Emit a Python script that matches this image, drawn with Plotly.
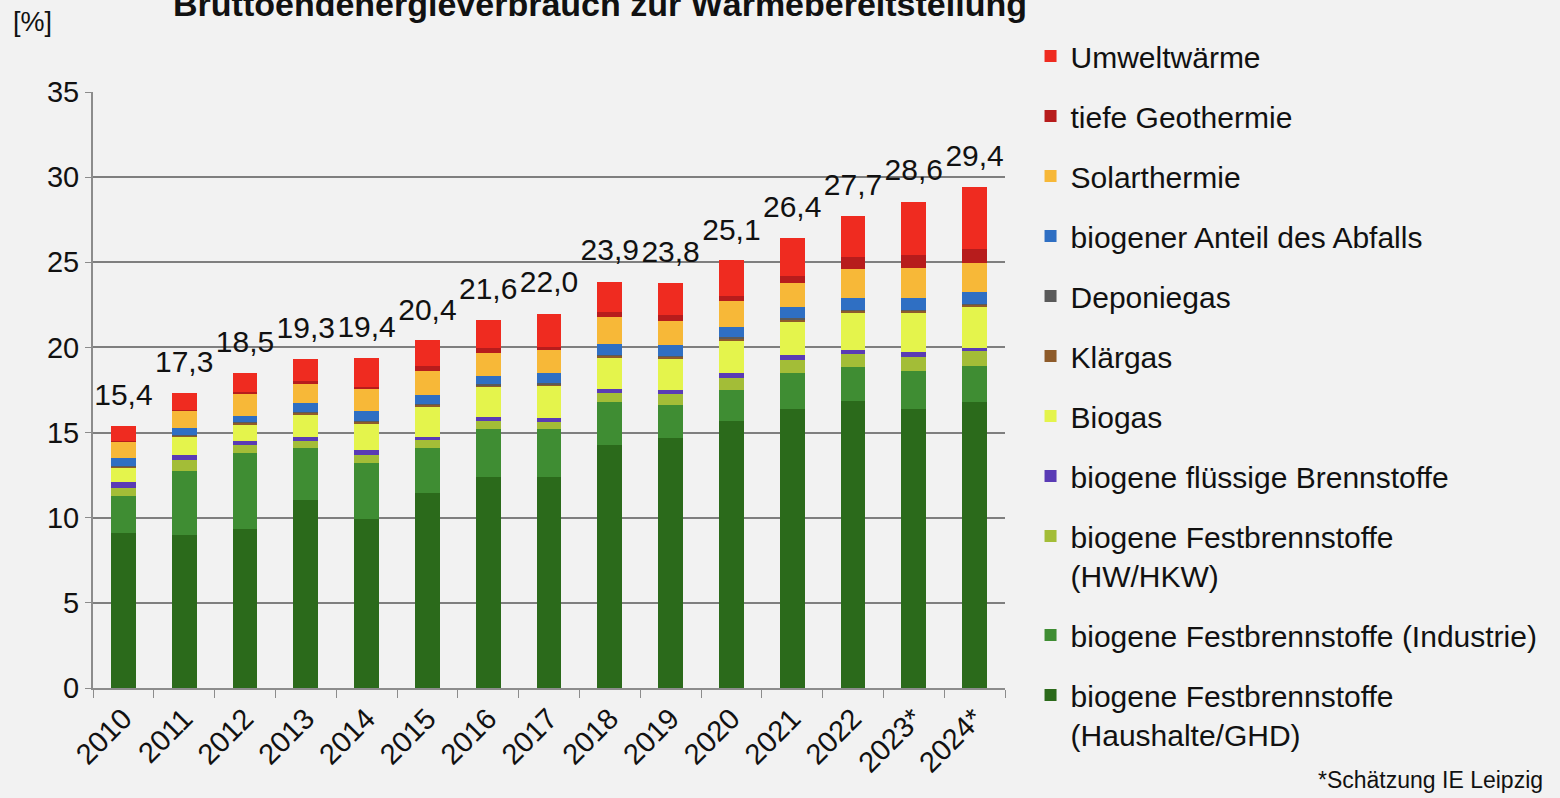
import plotly.graph_objects as go

years = ["2010", "2011", "2012", "2013", "2014", "2015", "2016", "2017",
         "2018", "2019", "2020", "2021", "2022", "2023*", "2024*"]

haushalte = [9.10, 9.00, 9.35, 11.05, 9.90, 11.43, 12.40, 12.40, 14.27, 14.66, 15.70, 16.40, 16.85, 16.40, 16.80]
industrie = [2.15, 3.75, 4.43, 3.06, 3.29, 2.64, 2.79, 2.79, 2.54, 1.96, 1.80, 2.11, 1.98, 2.21, 2.11]
hw_hkw = [0.50, 0.63, 0.49, 0.41, 0.49, 0.49, 0.49, 0.45, 0.49, 0.64, 0.69, 0.75, 0.77, 0.85, 0.89]
fluessig = [0.35, 0.30, 0.25, 0.24, 0.30, 0.20, 0.21, 0.23, 0.23, 0.24, 0.29, 0.29, 0.25, 0.29, 0.18]
biogas = [0.85, 1.08, 0.98, 1.33, 1.56, 1.76, 1.80, 1.88, 1.87, 1.84, 1.95, 1.95, 2.19, 2.29, 2.41]
klaergas = [0.05, 0.07, 0.07, 0.10, 0.10, 0.10, 0.10, 0.09, 0.10, 0.10, 0.10, 0.13, 0.10, 0.12, 0.11]
deponiegas = [0.03, 0.03, 0.03, 0.04, 0.06, 0.06, 0.06, 0.05, 0.05, 0.06, 0.06, 0.07, 0.06, 0.06, 0.05]
abfall = [0.45, 0.38, 0.40, 0.50, 0.59, 0.52, 0.47, 0.59, 0.63, 0.64, 0.63, 0.69, 0.68, 0.70, 0.72]
solar = [1.00, 1.06, 1.27, 1.18, 1.31, 1.43, 1.37, 1.37, 1.58, 1.43, 1.50, 1.41, 1.70, 1.72, 1.70]
geothermie = [0.05, 0.05, 0.10, 0.10, 0.10, 0.27, 0.26, 0.19, 0.34, 0.33, 0.30, 0.39, 0.73, 0.79, 0.83]
umwelt = [0.85, 0.95, 1.10, 1.30, 1.70, 1.53, 1.66, 1.92, 1.76, 1.86, 2.11, 2.25, 2.42, 3.13, 3.60]

totals = [15.4, 17.3, 18.5, 19.3, 19.4, 20.4, 21.6, 22.0, 23.9, 23.8, 25.1, 26.4, 27.7, 28.6, 29.4]

series = [
    ("biogene Festbrennstoffe<br>(Haushalte/GHD)", haushalte, "#2B6A1B"),
    ("biogene Festbrennstoffe (Industrie)", industrie, "#3F8D33"),
    ("biogene Festbrennstoffe<br>(HW/HKW)", hw_hkw, "#A3BD37"),
    ("biogene flüssige Brennstoffe", fluessig, "#5A3BB5"),
    ("Biogas", biogas, "#E4F44C"),
    ("Klärgas", klaergas, "#8E5B2A"),
    ("Deponiegas", deponiegas, "#5A5A5A"),
    ("biogener Anteil des Abfalls", abfall, "#2F6FC3"),
    ("Solarthermie", solar, "#F7B838"),
    ("tiefe Geothermie", geothermie, "#B71C1C"),
    ("Umweltwärme", umwelt, "#EF2B20"),
]

FONT = "Liberation Sans, Arial, sans-serif"
BG = "#F2F2F2"

fig = go.Figure()
n = len(series)
for i, (name, vals, color) in enumerate(series):
    fig.add_trace(go.Bar(
        x=years, y=vals, name=name, legendgroup=f"g{i}",
        legendrank=n - i,
        marker=dict(color=color, line=dict(width=0)),
        hoverinfo="name+y",
    ))

fig.add_trace(go.Scatter(
    x=years, y=totals, mode="text+markers",
    text=[f"{v:.1f}".replace(".", ",") for v in totals],
    textposition="top center",
    textfont=dict(family=FONT, size=30, color="#111111"),
    marker=dict(size=20, opacity=0),
    showlegend=False, hoverinfo="skip", cliponaxis=False,
))

fig.update_layout(
    width=1560, height=798,
    barmode="stack", bargap=0.59,
    paper_bgcolor=BG, plot_bgcolor=BG,
    margin=dict(l=93, r=555, t=92, b=110, autoexpand=False),
    font=dict(family=FONT, size=26, color="#111111"),
    showlegend=True,
    legend=dict(
        x=1.028, xanchor="left", y=1.104, yanchor="top",
        traceorder="grouped", tracegroupgap=18,
        font=dict(family=FONT, size=30, color="#111111"),
        bgcolor="rgba(0,0,0,0)", valign="top", maxheight=1.0,
    ),
    xaxis=dict(
        type="category", range=[-0.5, 14.5],
        showline=True, linecolor="#8C8C8C", linewidth=2,
        ticks="outside", tickson="boundaries", ticklen=8, tickcolor="#8C8C8C",
        tickangle=-45, tickfont=dict(family=FONT, size=29, color="#111111"),
        showgrid=False,
    ),
    yaxis=dict(
        range=[0, 35], tickvals=[0, 5, 10, 15, 20, 25, 30, 35],
        showline=True, linecolor="#8C8C8C", linewidth=2,
        ticks="outside", ticklen=6, tickcolor="#8C8C8C",
        showgrid=True, gridcolor="#7F7F7F", gridwidth=2,
        zeroline=False,
        tickfont=dict(family=FONT, size=29, color="#111111"),
    ),
    annotations=[
        dict(text="<b>Bruttoendenergieverbrauch zur Wärmebereitstellung</b>",
             xref="paper", yref="paper", x=0.656 - 0.1, y=1.147,
             xanchor="center", yanchor="middle", showarrow=False,
             font=dict(family=FONT, size=34, color="#111111")),
        dict(text="[%]", xref="paper", yref="paper", x=-0.066, y=1.117,
             xanchor="center", yanchor="middle", showarrow=False,
             font=dict(family=FONT, size=27, color="#111111")),
        dict(text="*Schätzung IE Leipzig", xref="paper", yref="paper",
             x=1.592, y=-0.154, xanchor="right", yanchor="middle",
             showarrow=False, font=dict(family=FONT, size=23, color="#111111")),
    ],
)

fig.write_html("out.html",
               config={"displayModeBar": False},
               post_script="document.body.style.margin='0';document.body.style.overflow='hidden';")
